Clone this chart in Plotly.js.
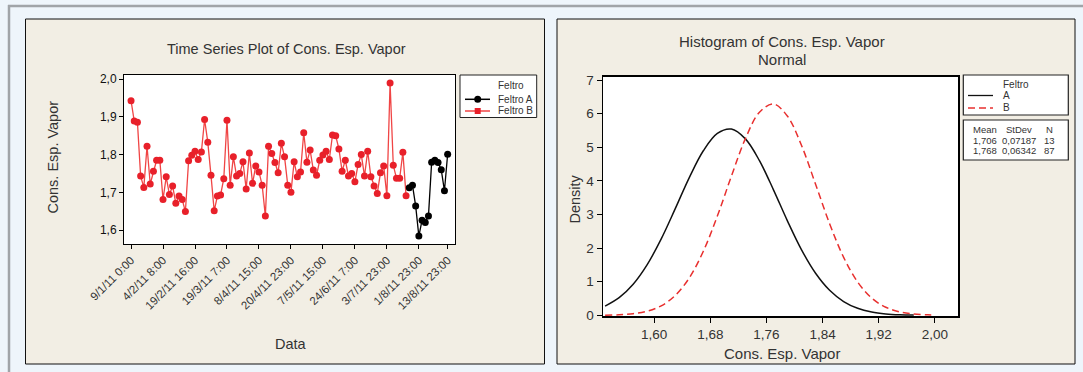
<!DOCTYPE html>
<html><head><meta charset="utf-8">
<script src="https://cdn.plot.ly/plotly-3.0.1.min.js"></script>
<style>html,body{margin:0;padding:0;background:#eef5fb;overflow:hidden}#chart{width:1083px;height:372px}</style>
</head><body><div id="chart"></div>
<script>
// ---- Time series data (Cons. Esp. Vapor by observation) ----
const feltroB = [1.943,1.889,1.886,1.743,1.713,1.822,1.722,1.756,1.785,1.785,
1.681,1.741,1.694,1.717,1.671,1.690,1.681,1.649,1.784,1.798,
1.809,1.787,1.807,1.893,1.833,1.745,1.651,1.690,1.693,1.736,
1.891,1.719,1.794,1.743,1.750,1.781,1.709,1.804,1.724,1.770,
1.754,1.719,1.637,1.822,1.803,1.779,1.752,1.830,1.794,1.719,
1.700,1.781,1.741,1.754,1.858,1.780,1.812,1.759,1.745,1.785,
1.799,1.809,1.787,1.852,1.850,1.815,1.756,1.785,1.743,1.750,
1.728,1.774,1.800,1.743,1.809,1.741,1.717,1.697,1.752,1.770,
1.691,1.990,1.772,1.737,1.737,1.806,1.691];
const feltroA = [1.712,1.719,1.664,1.584,1.626,1.620,1.637,1.780,1.785,1.779,1.760,1.704,1.801];
const tickIndex = [1,11,21,31,41,51,61,71,81,91,100];
const tickLabels = ['9/1/11 0:00','4/2/11 8:00','19/2/11 16:00','19/3/11 7:00','8/4/11 15:00',
  '20/4/11 23:00','7/5/11 15:00','24/6/11 7:00','3/7/11 23:00','1/8/11 23:00','13/8/11 23:00'];
const seriesNames = ['Feltro A','Feltro B'];

// ---- Fitted normal curves ----
const densXA = [1.53,1.55,1.57,1.59,1.61,1.63,1.65,1.67,1.69,1.71,1.73,1.75,1.77,1.79,1.81,1.83,1.85,1.87,1.89,1.91,1.93,1.95,1.97];
const densA  = [0.276,0.526,0.926,1.509,2.274,3.173,4.098,4.896,5.415,5.542,5.250,4.602,3.734,2.804,1.948,1.253,0.746,0.411,0.209,0.099,0.043,0.017,0.007];
const densXB = [1.53,1.55,1.57,1.59,1.61,1.63,1.65,1.67,1.69,1.71,1.73,1.75,1.77,1.79,1.81,1.83,1.85,1.87,1.89,1.91,1.93,1.95,1.97,1.99,2.00];
const densB  = [0.006,0.017,0.048,0.122,0.283,0.590,1.114,1.906,2.953,4.140,5.257,6.042,6.287,5.923,5.052,3.901,2.727,1.726,0.989,0.513,0.241,0.102,0.039,0.014,0.008];
const histTicks = [1.60,1.68,1.76,1.84,1.92,2.00];
const groups = ['A','B'];
const statHeaders = ['Mean','StDev','N'];
const statMean = ['1,706','1,768'];
const statStDev = ['0,07187','0,06342'];
const statN = ['13','87'];

// ---- helpers ----
const W = 1083, H = 372;
const px = x => x / W, py = y => 1 - y / H;
const FONT = '"Liberation Sans", Arial, Helvetica, sans-serif';
const RED = '#e8202a', REDLINE = '#f04545';

const idxB = feltroB.map((_, i) => i + 1);
const idxA = feltroA.map((_, i) => feltroB.length + i + 1);

const traces = [
  {x: idxB, y: feltroB, name: seriesNames[1], type: 'scatter', mode: 'lines+markers',
   line: {color: REDLINE, width: 1.3}, marker: {color: RED, size: 7, symbol: 'circle'}, xaxis: 'x', yaxis: 'y'},
  {x: idxA, y: feltroA, name: seriesNames[0], type: 'scatter', mode: 'lines+markers',
   line: {color: '#000', width: 1.3}, marker: {color: '#000', size: 7, symbol: 'circle'}, xaxis: 'x', yaxis: 'y'},
  {x: densXA, y: densA, name: groups[0], type: 'scatter', mode: 'lines',
   line: {color: '#111', width: 1.5, shape: 'spline'}, xaxis: 'x2', yaxis: 'y2'},
  {x: densXB, y: densB, name: groups[1], type: 'scatter', mode: 'lines',
   line: {color: '#e8302f', width: 1.5, dash: '7px,4px', shape: 'spline'}, xaxis: 'x2', yaxis: 'y2'}
];

const rect = (x0, y0, x1, y1, fill, lc, lw, layer) => ({type: 'rect', xref: 'paper', yref: 'paper',
  x0: px(x0), x1: px(x1), y0: py(y1), y1: py(y0), fillcolor: fill, line: {color: lc, width: lw}, layer: layer || 'below'});
const seg = (x0, y0, x1, y1, c, w, dash) => ({type: 'line', xref: 'paper', yref: 'paper',
  x0: px(x0), x1: px(x1), y0: py(y0), y1: py(y1), line: {color: c, width: w, dash: dash || 'solid'}, layer: 'above'});

const shapes = [
  // page frame
  seg(8, 6, 1083, 6, '#a0a4a8', 2.5),
  seg(9, 5, 9, 372, '#a0a4a8', 2.5),
  // panels
  rect(25.5, 19, 544.5, 364, '#f2eee4', '#111', 1),
  rect(557, 19, 1075, 364, '#f2eee4', '#111', 1),
  // plot areas
  rect(124, 75, 455, 244, '#ffffff', 'rgba(0,0,0,0)', 0),
  rect(603, 76.7, 958, 316, '#ffffff', 'rgba(0,0,0,0)', 0),
  // left legend
  rect(460, 75, 536.7, 117.5, '#ffffff', '#222', 1),
  seg(465, 99.3, 490, 99.3, '#000', 1.5),
  {type: 'circle', xref: 'paper', yref: 'paper', x0: px(474.2), x1: px(481.2), y0: py(102.8), y1: py(95.8),
   fillcolor: '#000', line: {color: '#000', width: 0}, layer: 'above'},
  seg(465, 111, 490, 111, REDLINE, 1.5),
  rect(474.7, 108, 480.7, 114, RED, RED, 0, 'above'),
  // right legend
  rect(963.3, 75, 1068.3, 115, '#ffffff', '#222', 1.2),
  seg(968, 95.5, 993, 95.5, '#111', 1.3),
  seg(968, 108, 993, 108, '#e8302f', 1.3, '7px,4px'),
  rect(963.3, 120, 1068.3, 160, '#ffffff', '#222', 1.2)
];

const ann = (x, y, text, size, opts) => Object.assign({xref: 'paper', yref: 'paper', x: px(x), y: py(y), text: text,
  showarrow: false, xanchor: 'center', yanchor: 'middle', font: {family: FONT, size: size, color: '#333'}}, opts || {});

const annotations = [
  ann(286.4, 49.3, 'Time Series Plot of Cons. Esp. Vapor', 14.5),
  ann(53, 157.5, 'Cons. Esp. Vapor', 14.5, {textangle: -90}),
  ann(290.6, 344, 'Data', 14.5),
  ann(496, 85, 'Feltro', 10, {xanchor: 'left'}),
  ann(496, 99.3, seriesNames[0], 10, {xanchor: 'left'}),
  ann(496, 111, seriesNames[1], 10, {xanchor: 'left'}),
  ann(781.8, 41.7, 'Histogram of Cons. Esp. Vapor', 15),
  ann(781.6, 60, 'Normal', 15),
  ann(574.5, 199, 'Density', 14.5, {textangle: -90}),
  ann(781.7, 353.3, 'Cons. Esp. Vapor', 15),
  ann(1000.7, 84, 'Feltro', 10, {xanchor: 'left'}),
  ann(1000.7, 95.5, groups[0], 10, {xanchor: 'left'}),
  ann(1000.7, 107.3, groups[1], 10, {xanchor: 'left'}),
  ann(970.5, 129, statHeaders[0], 9.5, {xanchor: 'left'}),
  ann(1004, 129, statHeaders[1], 9.5, {xanchor: 'left'}),
  ann(1049, 129, statHeaders[2], 9.5)
];
const rowY = [140, 150.7];
for (let r = 0; r < statMean.length; r++) {
  annotations.push(ann(970.5, rowY[r], statMean[r], 9.5, {xanchor: 'left'}));
  annotations.push(ann(999.5, rowY[r], statStDev[r], 9.5, {xanchor: 'left'}));
  annotations.push(ann(1049, rowY[r], statN[r], 9.5));
}

const axBase = {showgrid: false, zeroline: false, showline: true, linecolor: '#000', linewidth: 1, mirror: true,
  ticks: 'outside', tickcolor: '#000', tickwidth: 1};

const layout = {
  width: W, height: H, margin: {l: 0, r: 0, t: 0, b: 0, pad: 0},
  paper_bgcolor: '#eef5fb', plot_bgcolor: 'rgba(0,0,0,0)',
  separators: ',.', showlegend: false,
  font: {family: FONT, color: '#222'},
  xaxis: Object.assign({}, axBase, {domain: [px(124), px(455)], range: [-1.2, 102.3], anchor: 'y',
    tickmode: 'array', tickvals: tickIndex, ticktext: tickLabels, tickangle: -45, ticklen: 4,
    tickfont: {family: FONT, size: 11.5, color: '#333'}}),
  yaxis: Object.assign({}, axBase, {domain: [py(244), py(75)], range: [1.563, 2.011], anchor: 'x',
    tickmode: 'array', tickvals: [1.6, 1.7, 1.8, 1.9, 2.0], tickformat: '.1f', ticklen: 4,
    tickfont: {family: FONT, size: 12, color: '#111'}}),
  xaxis2: Object.assign({}, axBase, {domain: [px(603), px(958)], range: [1.527, 2.033], anchor: 'y2',
    tickmode: 'array', tickvals: histTicks, tickformat: '.2f', ticklen: 5, linewidth: 1.5,
    tickfont: {family: FONT, size: 13.5, color: '#333'}}),
  yaxis2: Object.assign({}, axBase, {domain: [py(316), py(76.7)], range: [-0.02, 7.1], anchor: 'x2',
    tickmode: 'linear', tick0: 0, dtick: 1, ticklen: 5, linewidth: 1.5,
    tickfont: {family: FONT, size: 13.5, color: '#333'}}),
  shapes: shapes,
  annotations: annotations
};

Plotly.newPlot('chart', traces, layout, {staticPlot: true, displayModeBar: false});
</script></body></html>
